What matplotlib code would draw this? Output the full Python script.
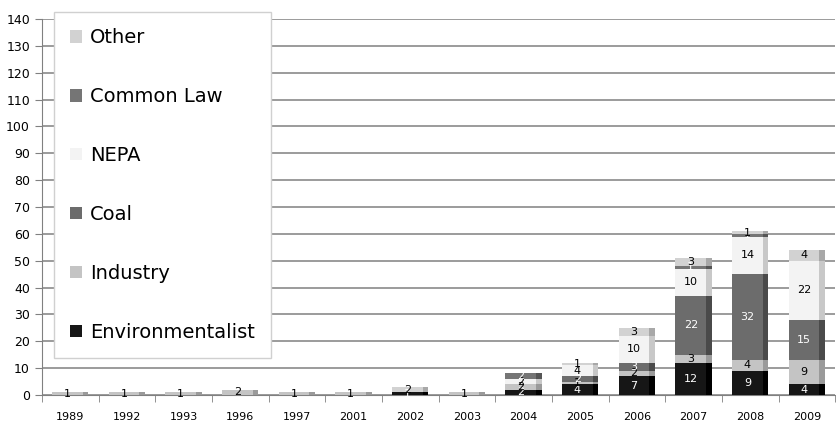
import numpy as np
import matplotlib.pyplot as plt
from matplotlib.patches import Patch

years = ['1989', '1992', '1993', '1996', '1997', '2001', '2002', '2003',
         '2004', '2005', '2006', '2007', '2008', '2009']
series = ['Environmentalist', 'Industry', 'Coal', 'NEPA', 'Common Law', 'Other']
environmentalist = [0, 0, 0, 0, 0, 0, 1, 0, 2, 4, 7, 12, 9, 4]
industry         = [1, 1, 1, 2, 1, 1, 0, 1, 2, 1, 2, 3, 4, 9]
coal             = [0, 0, 0, 0, 0, 0, 0, 0, 0, 2, 3, 22, 32, 15]
nepa             = [0, 0, 0, 0, 0, 0, 0, 0, 2, 4, 10, 10, 14, 22]
common_law       = [0, 0, 0, 0, 0, 0, 0, 0, 2, 0, 0, 1, 1, 0]
other            = [0, 0, 0, 0, 0, 0, 2, 0, 0, 1, 3, 3, 1, 4]

data = [environmentalist, industry, coal, nepa, common_law, other]
colors = ['#161616', '#c4c4c4', '#6c6c6c', '#f3f3f3', '#757575', '#d2d2d2']
sides  = ['#000000', '#9a9a9a', '#4a4a4a', '#c8c8c8', '#555555', '#a8a8a8']
txtcol = ['white', 'black', 'white', 'black', 'white', 'black']

fig = plt.figure(figsize=(8.37, 4.34), dpi=100)
ax = fig.add_axes([0.05, 0.09, 0.948, 0.866])

x = np.arange(len(years))
w = 0.64
sw = 0.1
bottom = np.zeros(len(years))
for vals, c, s, tc in zip(data, colors, sides, txtcol):
    vals = np.array(vals, dtype=float)
    ax.bar(x - sw / 2, vals, w - sw, bottom=bottom, color=c, zorder=3)
    ax.bar(x + w / 2 - sw / 2, vals, sw, bottom=bottom, color=s, zorder=3)
    for xi, v, b in zip(x, vals, bottom):
        if v > 0:
            ax.text(xi - sw / 2, b + v / 2, str(int(v)), ha='center', va='center',
                    fontsize=8, color=tc, zorder=4)
    bottom += vals

ax.set_ylim(0, 140)
ax.set_yticks(np.arange(0, 141, 10))
ax.set_xlim(-0.5, len(years) - 0.5)
ax.set_xticks(x)
ax.set_xticklabels(years, fontsize=8)
ax.set_xticks(np.arange(-0.5, len(years), 1), minor=True)
ax.tick_params(axis='x', which='major', length=0, pad=12)
ax.tick_params(axis='x', which='minor', length=5, color='#808080')
ax.tick_params(axis='y', labelsize=9, length=5, color='#808080')
ax.yaxis.grid(True, color='#8a8a8a', linewidth=1.2, zorder=0)
for side in ['top', 'right']:
    ax.spines[side].set_visible(False)
ax.spines['left'].set_color('#808080')
ax.spines['bottom'].set_color('#808080')

handles = [Patch(facecolor=c, edgecolor='none') for c in colors]
leg = ax.legend(handles[::-1], series[::-1], loc='upper left', bbox_to_anchor=(0.003, 1.045),
                fontsize=14, labelspacing=2.05, handlelength=0.6, handleheight=0.6,
                handletextpad=0.4, borderpad=0.85, fancybox=False, framealpha=1,
                edgecolor='#d0d0d0')
leg.set_zorder(5)

plt.savefig('out.png', dpi=100)
